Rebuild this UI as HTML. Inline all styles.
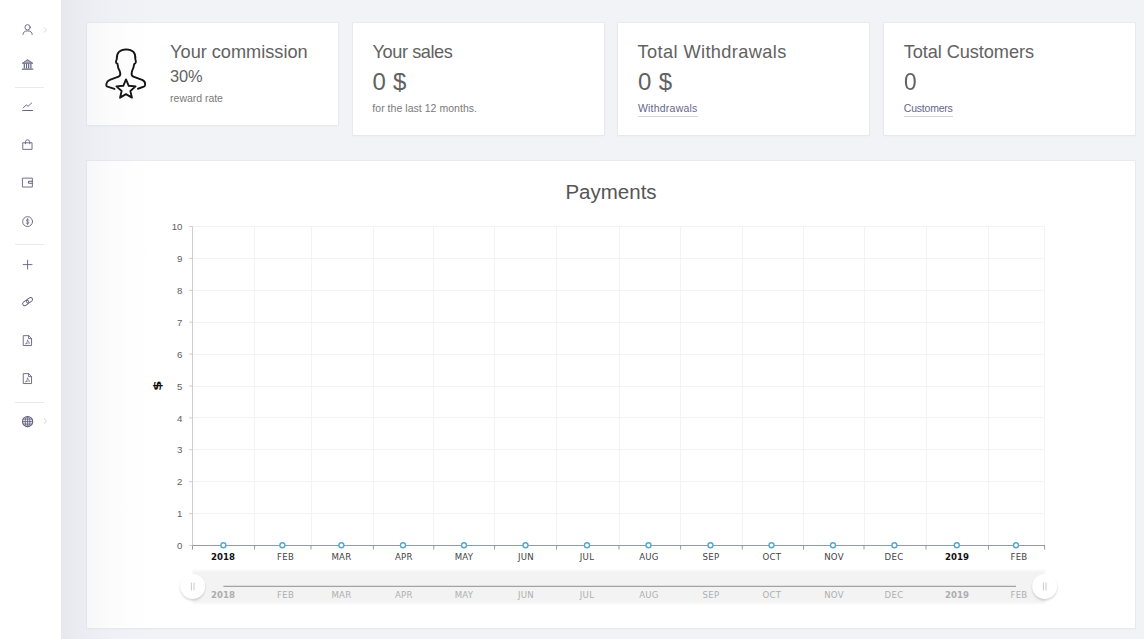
<!DOCTYPE html>
<html lang="en"><head><meta charset="utf-8"><title>Dashboard</title>
<style>
*{box-sizing:border-box;margin:0;padding:0}
html,body{width:1144px;height:639px;overflow:hidden;background:#f2f3f7;font-family:"Liberation Sans",sans-serif;color:#575962}
.side{position:absolute;left:0;top:0;width:61px;height:639px;background:#fff}
.sic{position:absolute}
.chev{position:absolute;left:42.6px}
.sep{position:absolute;left:15px;width:29px;height:1px;background:#e9e9ef}
.shade{position:absolute;left:61px;top:0;width:90px;height:639px;background:linear-gradient(to right,rgba(196,198,210,.24),rgba(200,202,214,.15) 25%,rgba(205,207,218,.07) 55%,rgba(210,212,222,0));pointer-events:none;z-index:5}
.card{position:absolute;background:#fff;box-shadow:0 0 0 1px rgba(226,228,235,.6), 0 1px 2px rgba(190,194,208,.12)}
.t{position:absolute;white-space:nowrap;color:#585858;line-height:1}
.h{color:#626262}
.s{color:#7a7a7a}
.lnk{color:#67668a}
.lnk:after{content:"";position:absolute;left:0;right:0;top:12.4px;height:1px;background:#d4d4df}
.uicon{position:absolute;left:95px;top:40px}
.chart{position:absolute;left:0;top:0}
.chart text{font-family:"DejaVu Sans","Liberation Sans",sans-serif}
.chart .yl{font-family:"Liberation Sans",sans-serif;font-size:9.7px;fill:#606060}
.chart .xl{font-size:8.6px;fill:#444;letter-spacing:.25px}
.chart .sl{font-size:8.6px;fill:#afafaf;letter-spacing:.25px}
.chart .b{font-weight:bold;fill:#111;letter-spacing:0}
.chart .sl.b{fill:#adadad;letter-spacing:0}
.chart .yt{font-size:11.2px;font-weight:bold;fill:#111}
.chart .title{font-family:"Liberation Sans",sans-serif;font-size:20.5px;fill:#555}
</style></head><body>
<div class="card" style="left:87px;top:23px;width:251px;height:102px"></div>
<div class="card" style="left:353px;top:23px;width:251px;height:112px"></div>
<div class="card" style="left:618px;top:23px;width:251px;height:112px"></div>
<div class="card" style="left:884px;top:23px;width:251px;height:112px"></div>
<div class="card" style="left:87px;top:161px;width:1048px;height:467px"></div>
<svg class="uicon" width="70" height="70" viewBox="0 0 639 639" fill="none" stroke="#0d0d0d" stroke-width="17" stroke-linejoin="round" stroke-linecap="round">
<path d="M178 447 L114 426 Q100 420 104 400 Q110 375 135 365 L215 335 Q236 325 230 298 Q224 275 212 255 L205 216 Q190 214 192 195 Q194 182 199 175 Q195 88 285 85 Q375 88 368 175 Q375 190 372 205 Q368 218 358 218 L350 255 Q340 275 335 298 Q330 325 350 335 L430 365 Q455 375 458 400 Q460 420 446 426 L392 445"/>
<polygon points="283.0,360.0 307.7,418.0 370.5,423.6 322.9,465.0 337.1,526.4 283.0,494.0 228.9,526.4 243.1,465.0 195.5,423.6 258.3,418.0"/>
</svg>
<div class="t h" style="left:170.10px;top:43.39px;font-size:18.2px;letter-spacing:-0.021px">Your commission</div>
<div class="t h" style="left:170.10px;top:68.32px;font-size:16.4px;letter-spacing:-0.116px">30%</div>
<div class="t s" style="left:170.10px;top:92.71px;font-size:10.5px;letter-spacing:-0.027px">reward rate</div>
<div class="t h" style="left:372.60px;top:43.19px;font-size:18.2px;letter-spacing:-0.440px">Your sales</div>
<div class="t h" style="left:372.60px;top:70.08px;font-size:24.0px;letter-spacing:0.192px">0 $</div>
<div class="t s" style="left:372.30px;top:103.11px;font-size:10.5px;letter-spacing:0.038px">for the last 12 months.</div>
<div class="t h" style="left:637.60px;top:43.19px;font-size:18.2px;letter-spacing:0.392px">Total Withdrawals</div>
<div class="t h" style="left:637.90px;top:70.08px;font-size:24.0px;letter-spacing:0.392px">0 $</div>
<div class="t s lnk" style="left:637.90px;top:103.11px;font-size:10.5px;letter-spacing:0.227px">Withdrawals</div>
<div class="t h" style="left:903.80px;top:43.19px;font-size:18.2px;letter-spacing:-0.086px">Total Customers</div>
<div class="t h" style="left:904.20px;top:70.08px;font-size:24.0px;letter-spacing:0.000px;transform-origin:-0.00px 50%;transform:scaleX(0.946)">0</div>
<div class="t s lnk" style="left:903.80px;top:103.11px;font-size:10.5px;letter-spacing:-0.214px">Customers</div>

<svg class="chart" width="1144" height="639" viewBox="0 0 1144 639">
<line x1="192.5" x2="1045" y1="226.5" y2="226.5" stroke="#f3f3f3" stroke-width="1"/>
<line x1="192.5" x2="1045" y1="258.5" y2="258.5" stroke="#f3f3f3" stroke-width="1"/>
<line x1="192.5" x2="1045" y1="290.5" y2="290.5" stroke="#f3f3f3" stroke-width="1"/>
<line x1="192.5" x2="1045" y1="322.5" y2="322.5" stroke="#f3f3f3" stroke-width="1"/>
<line x1="192.5" x2="1045" y1="354.5" y2="354.5" stroke="#f3f3f3" stroke-width="1"/>
<line x1="192.5" x2="1045" y1="386.5" y2="386.5" stroke="#f3f3f3" stroke-width="1"/>
<line x1="192.5" x2="1045" y1="417.5" y2="417.5" stroke="#f3f3f3" stroke-width="1"/>
<line x1="192.5" x2="1045" y1="449.5" y2="449.5" stroke="#f3f3f3" stroke-width="1"/>
<line x1="192.5" x2="1045" y1="481.5" y2="481.5" stroke="#f3f3f3" stroke-width="1"/>
<line x1="192.5" x2="1045" y1="513.5" y2="513.5" stroke="#f3f3f3" stroke-width="1"/>
<line x1="192.5" x2="1045" y1="545.5" y2="545.5" stroke="#f3f3f3" stroke-width="1"/>
<line x1="254.5" x2="254.5" y1="226.5" y2="545.5" stroke="#f3f3f3" stroke-width="1"/>
<line x1="311.5" x2="311.5" y1="226.5" y2="545.5" stroke="#f3f3f3" stroke-width="1"/>
<line x1="373.5" x2="373.5" y1="226.5" y2="545.5" stroke="#f3f3f3" stroke-width="1"/>
<line x1="433.5" x2="433.5" y1="226.5" y2="545.5" stroke="#f3f3f3" stroke-width="1"/>
<line x1="494.5" x2="494.5" y1="226.5" y2="545.5" stroke="#f3f3f3" stroke-width="1"/>
<line x1="556.5" x2="556.5" y1="226.5" y2="545.5" stroke="#f3f3f3" stroke-width="1"/>
<line x1="619.5" x2="619.5" y1="226.5" y2="545.5" stroke="#f3f3f3" stroke-width="1"/>
<line x1="680.5" x2="680.5" y1="226.5" y2="545.5" stroke="#f3f3f3" stroke-width="1"/>
<line x1="742.5" x2="742.5" y1="226.5" y2="545.5" stroke="#f3f3f3" stroke-width="1"/>
<line x1="803.5" x2="803.5" y1="226.5" y2="545.5" stroke="#f3f3f3" stroke-width="1"/>
<line x1="864.5" x2="864.5" y1="226.5" y2="545.5" stroke="#f3f3f3" stroke-width="1"/>
<line x1="926.5" x2="926.5" y1="226.5" y2="545.5" stroke="#f3f3f3" stroke-width="1"/>
<line x1="988.5" x2="988.5" y1="226.5" y2="545.5" stroke="#f3f3f3" stroke-width="1"/>
<line x1="1044.5" x2="1044.5" y1="226.5" y2="545.5" stroke="#f3f3f3" stroke-width="1"/>
<line x1="192.5" x2="192.5" y1="226.5" y2="545.5" stroke="#cfcfcf" stroke-width="1"/>
<line x1="189.0" x2="192.5" y1="226.5" y2="226.5" stroke="#cfcfcf" stroke-width="1"/>
<text class="yl" x="182.5" y="230.1" text-anchor="end">10</text>
<line x1="189.0" x2="192.5" y1="258.4" y2="258.4" stroke="#cfcfcf" stroke-width="1"/>
<text class="yl" x="182.5" y="262.0" text-anchor="end">9</text>
<line x1="189.0" x2="192.5" y1="290.3" y2="290.3" stroke="#cfcfcf" stroke-width="1"/>
<text class="yl" x="182.5" y="293.9" text-anchor="end">8</text>
<line x1="189.0" x2="192.5" y1="322.2" y2="322.2" stroke="#cfcfcf" stroke-width="1"/>
<text class="yl" x="182.5" y="325.8" text-anchor="end">7</text>
<line x1="189.0" x2="192.5" y1="354.1" y2="354.1" stroke="#cfcfcf" stroke-width="1"/>
<text class="yl" x="182.5" y="357.7" text-anchor="end">6</text>
<line x1="189.0" x2="192.5" y1="386.0" y2="386.0" stroke="#cfcfcf" stroke-width="1"/>
<text class="yl" x="182.5" y="389.6" text-anchor="end">5</text>
<line x1="189.0" x2="192.5" y1="417.9" y2="417.9" stroke="#cfcfcf" stroke-width="1"/>
<text class="yl" x="182.5" y="421.5" text-anchor="end">4</text>
<line x1="189.0" x2="192.5" y1="449.8" y2="449.8" stroke="#cfcfcf" stroke-width="1"/>
<text class="yl" x="182.5" y="453.4" text-anchor="end">3</text>
<line x1="189.0" x2="192.5" y1="481.7" y2="481.7" stroke="#cfcfcf" stroke-width="1"/>
<text class="yl" x="182.5" y="485.3" text-anchor="end">2</text>
<line x1="189.0" x2="192.5" y1="513.6" y2="513.6" stroke="#cfcfcf" stroke-width="1"/>
<text class="yl" x="182.5" y="517.2" text-anchor="end">1</text>
<line x1="189.0" x2="192.5" y1="545.5" y2="545.5" stroke="#cfcfcf" stroke-width="1"/>
<text class="yl" x="182.5" y="549.1" text-anchor="end">0</text>
<line x1="192.5" x2="1045" y1="545.5" y2="545.5" stroke="#9a9a9a" stroke-width="1"/>
<line x1="192.5" x2="192.5" y1="545.5" y2="549.5" stroke="#9a9a9a" stroke-width="1"/>
<line x1="254.6" x2="254.6" y1="545.5" y2="549.5" stroke="#9a9a9a" stroke-width="1"/>
<line x1="311" x2="311" y1="545.5" y2="549.5" stroke="#9a9a9a" stroke-width="1"/>
<line x1="373.4" x2="373.4" y1="545.5" y2="549.5" stroke="#9a9a9a" stroke-width="1"/>
<line x1="433.8" x2="433.8" y1="545.5" y2="549.5" stroke="#9a9a9a" stroke-width="1"/>
<line x1="494.6" x2="494.6" y1="545.5" y2="549.5" stroke="#9a9a9a" stroke-width="1"/>
<line x1="556.6" x2="556.6" y1="545.5" y2="549.5" stroke="#9a9a9a" stroke-width="1"/>
<line x1="619" x2="619" y1="545.5" y2="549.5" stroke="#9a9a9a" stroke-width="1"/>
<line x1="680.6" x2="680.6" y1="545.5" y2="549.5" stroke="#9a9a9a" stroke-width="1"/>
<line x1="742.3" x2="742.3" y1="545.5" y2="549.5" stroke="#9a9a9a" stroke-width="1"/>
<line x1="803.5" x2="803.5" y1="545.5" y2="549.5" stroke="#9a9a9a" stroke-width="1"/>
<line x1="864" x2="864" y1="545.5" y2="549.5" stroke="#9a9a9a" stroke-width="1"/>
<line x1="926" x2="926" y1="545.5" y2="549.5" stroke="#9a9a9a" stroke-width="1"/>
<line x1="988.5" x2="988.5" y1="545.5" y2="549.5" stroke="#9a9a9a" stroke-width="1"/>
<line x1="1044.6" x2="1044.6" y1="545.5" y2="549.5" stroke="#9a9a9a" stroke-width="1"/>
<line x1="223.4" x2="1016" y1="545.5" y2="545.5" stroke="#6aa9c9" stroke-width="1" opacity=".45"/>
<circle cx="223.4" cy="545.2" r="2.5" fill="#fff" stroke="#4fa9d3" stroke-width="1.35"/>
<circle cx="282.4" cy="545.2" r="2.5" fill="#fff" stroke="#4fa9d3" stroke-width="1.35"/>
<circle cx="341.4" cy="545.2" r="2.5" fill="#fff" stroke="#4fa9d3" stroke-width="1.35"/>
<circle cx="403" cy="545.2" r="2.5" fill="#fff" stroke="#4fa9d3" stroke-width="1.35"/>
<circle cx="464" cy="545.2" r="2.5" fill="#fff" stroke="#4fa9d3" stroke-width="1.35"/>
<circle cx="525.5" cy="545.2" r="2.5" fill="#fff" stroke="#4fa9d3" stroke-width="1.35"/>
<circle cx="587" cy="545.2" r="2.5" fill="#fff" stroke="#4fa9d3" stroke-width="1.35"/>
<circle cx="648.5" cy="545.2" r="2.5" fill="#fff" stroke="#4fa9d3" stroke-width="1.35"/>
<circle cx="710.5" cy="545.2" r="2.5" fill="#fff" stroke="#4fa9d3" stroke-width="1.35"/>
<circle cx="771.5" cy="545.2" r="2.5" fill="#fff" stroke="#4fa9d3" stroke-width="1.35"/>
<circle cx="833" cy="545.2" r="2.5" fill="#fff" stroke="#4fa9d3" stroke-width="1.35"/>
<circle cx="894.4" cy="545.2" r="2.5" fill="#fff" stroke="#4fa9d3" stroke-width="1.35"/>
<circle cx="956.8" cy="545.2" r="2.5" fill="#fff" stroke="#4fa9d3" stroke-width="1.35"/>
<circle cx="1016" cy="545.2" r="2.5" fill="#fff" stroke="#4fa9d3" stroke-width="1.35"/>
<text class="xl b" x="223" y="560" text-anchor="middle">2018</text>
<text class="xl" x="285.6" y="560" text-anchor="middle">FEB</text>
<text class="xl" x="341.4" y="560" text-anchor="middle">MAR</text>
<text class="xl" x="403.8" y="560" text-anchor="middle">APR</text>
<text class="xl" x="464" y="560" text-anchor="middle">MAY</text>
<text class="xl" x="526" y="560" text-anchor="middle">JUN</text>
<text class="xl" x="587" y="560" text-anchor="middle">JUL</text>
<text class="xl" x="649" y="560" text-anchor="middle">AUG</text>
<text class="xl" x="711" y="560" text-anchor="middle">SEP</text>
<text class="xl" x="772" y="560" text-anchor="middle">OCT</text>
<text class="xl" x="834" y="560" text-anchor="middle">NOV</text>
<text class="xl" x="894" y="560" text-anchor="middle">DEC</text>
<text class="xl b" x="957" y="560" text-anchor="middle">2019</text>
<text class="xl" x="1019" y="560" text-anchor="middle">FEB</text>
<text class="yt" transform="translate(161,385.8) rotate(-90) scale(1.36,1)" text-anchor="middle">$</text>
<text class="title" x="611" y="199.2" text-anchor="middle">Payments</text>
<defs><filter id="gs" x="-50%" y="-50%" width="200%" height="200%"><feGaussianBlur stdDeviation="1.3"/></filter><filter id="sb" x="-5%" y="-20%" width="110%" height="140%"><feGaussianBlur stdDeviation="0.8"/></filter></defs>
<rect x="192.5" y="570.4" width="852.5" height="33.2" fill="#f3f3f3" filter="url(#sb)"/>
<line x1="223.4" x2="1016" y1="586.3" y2="586.3" stroke="#8f8f8f" stroke-width="1"/>
<text class="sl b" x="223" y="598" text-anchor="middle">2018</text>
<text class="sl" x="285.6" y="598" text-anchor="middle">FEB</text>
<text class="sl" x="341.4" y="598" text-anchor="middle">MAR</text>
<text class="sl" x="403.8" y="598" text-anchor="middle">APR</text>
<text class="sl" x="464" y="598" text-anchor="middle">MAY</text>
<text class="sl" x="526" y="598" text-anchor="middle">JUN</text>
<text class="sl" x="587" y="598" text-anchor="middle">JUL</text>
<text class="sl" x="649" y="598" text-anchor="middle">AUG</text>
<text class="sl" x="711" y="598" text-anchor="middle">SEP</text>
<text class="sl" x="772" y="598" text-anchor="middle">OCT</text>
<text class="sl" x="834" y="598" text-anchor="middle">NOV</text>
<text class="sl" x="894" y="598" text-anchor="middle">DEC</text>
<text class="sl b" x="957" y="598" text-anchor="middle">2019</text>
<text class="sl" x="1019" y="598" text-anchor="middle">FEB</text>
<circle cx="192.7" cy="588" r="12.4" fill="#000" opacity=".17" filter="url(#gs)"/>
<circle cx="192.7" cy="586.4" r="12.5" fill="#fff"/>
<line x1="191.39999999999998" x2="191.39999999999998" y1="582.6" y2="590.4" stroke="#bdbdbd" stroke-width="0.8"/>
<line x1="194.0" x2="194.0" y1="582.6" y2="590.4" stroke="#bdbdbd" stroke-width="0.8"/>
<circle cx="1044.7" cy="588" r="12.4" fill="#000" opacity=".17" filter="url(#gs)"/>
<circle cx="1044.7" cy="586.4" r="12.5" fill="#fff"/>
<line x1="1043.4" x2="1043.4" y1="582.6" y2="590.4" stroke="#bdbdbd" stroke-width="0.8"/>
<line x1="1046.0" x2="1046.0" y1="582.6" y2="590.4" stroke="#bdbdbd" stroke-width="0.8"/>
</svg>
<div class="shade"></div>
<div class="side">
<svg class="sic" style="left:21.0px;top:23.0px" width="13.2" height="13.2" viewBox="0 0 16 16" fill="none" stroke="#64627e" stroke-width="1.1" stroke-linecap="round" stroke-linejoin="round"><circle cx="8" cy="5.2" r="3.2"/><path d="M2.4 14 Q2.4 9.6 8 9.6 Q13.6 9.6 13.6 14"/></svg><svg class="chev" style="top:26.6px" width="5" height="6" viewBox="0 0 5 6" fill="none" stroke="#cfcfdb" stroke-width="0.9"><path d="M1 0.5 L3.6 3 L1 5.5"/></svg>
<svg class="sic" style="left:21.0px;top:58.0px" width="13.2" height="13.2" viewBox="0 0 16 16" fill="none" stroke="#64627e" stroke-width="1.1" stroke-linecap="round" stroke-linejoin="round"><path d="M2 6.2 L8 2 L14 6.2 Z" fill="#64627e" fill-opacity=".55"/><path d="M4 7.4v4.6M6.7 7.4v4.6M9.3 7.4v4.6M12 7.4v4.6" stroke-width="1.4"/><path d="M1.8 13.6h12.4" stroke-width="1.5"/></svg>
<svg class="sic" style="left:21.0px;top:100.0px" width="13.2" height="13.2" viewBox="0 0 16 16" fill="none" stroke="#64627e" stroke-width="1.1" stroke-linecap="round" stroke-linejoin="round"><path d="M2.6 9.6 L6.4 6 L8.6 7.6 L13 3.6"/><path d="M2 12.8h12" stroke-width="1.3"/></svg>
<svg class="sic" style="left:21.0px;top:138.0px" width="13.2" height="13.2" viewBox="0 0 16 16" fill="none" stroke="#64627e" stroke-width="1.1" stroke-linecap="round" stroke-linejoin="round"><path d="M2.6 5.8h10.8v8H2.6z"/><path d="M5.4 7V4.6 Q5.4 2.2 8 2.2 Q10.6 2.2 10.6 4.6V7"/></svg>
<svg class="sic" style="left:21.0px;top:176.4px" width="13.2" height="13.2" viewBox="0 0 16 16" fill="none" stroke="#64627e" stroke-width="1.1" stroke-linecap="round" stroke-linejoin="round"><rect x="2.2" y="2.6" width="11.6" height="10.8"/><path d="M13.6 6.4H9.4 Q8.4 7.6 9.4 8.8H13.6" stroke-width="1.3"/></svg>
<svg class="sic" style="left:21.0px;top:215.0px" width="13.2" height="13.2" viewBox="0 0 16 16" fill="none" stroke="#64627e" stroke-width="1.1" stroke-linecap="round" stroke-linejoin="round"><circle cx="8" cy="8" r="6"/><path d="M9.8 6.2 Q8 4.8 6.6 6 Q5.8 7.4 8 8 Q10.2 8.6 9.4 10 Q8 11.2 6.2 9.8M8 4.2v7.6" stroke-width=".9"/></svg>
<svg class="sic" style="left:21.0px;top:257.8px" width="13.2" height="13.2" viewBox="0 0 16 16" fill="none" stroke="#64627e" stroke-width="1.1" stroke-linecap="round" stroke-linejoin="round"><path d="M8 2.6v10.8M2.6 8h10.8"/></svg>
<svg class="sic" style="left:21.0px;top:295.4px" width="13.2" height="13.2" viewBox="0 0 16 16" fill="none" stroke="#64627e" stroke-width="1.1" stroke-linecap="round" stroke-linejoin="round"><g transform="rotate(-35 8 8)"><rect x="1.2" y="5.6" width="8" height="4.8" rx="2.4"/><rect x="6.8" y="5.6" width="8" height="4.8" rx="2.4"/></g></svg>
<svg class="sic" style="left:21.0px;top:334.0px" width="13.2" height="13.2" viewBox="0 0 16 16" fill="none" stroke="#64627e" stroke-width="1.1" stroke-linecap="round" stroke-linejoin="round"><path d="M3.2 2h6.2L12.8 5.4V14H3.2z"/><path d="M9.2 2.2v3.4h3.4"/><path d="M5.8 12 Q7.8 10 8 7 Q8.2 9.8 10.6 11 Q8 10.6 5.8 12" stroke-width=".8"/></svg>
<svg class="sic" style="left:21.0px;top:372.4px" width="13.2" height="13.2" viewBox="0 0 16 16" fill="none" stroke="#64627e" stroke-width="1.1" stroke-linecap="round" stroke-linejoin="round"><path d="M3.2 2h6.2L12.8 5.4V14H3.2z"/><path d="M9.2 2.2v3.4h3.4"/><path d="M5.8 12 Q7.8 10 8 7 Q8.2 9.8 10.6 11 Q8 10.6 5.8 12" stroke-width=".8"/></svg>
<svg class="sic" style="left:21.0px;top:414.8px" width="13.2" height="13.2" viewBox="0 0 16 16" fill="none" stroke="#64627e" stroke-width="1.1" stroke-linecap="round" stroke-linejoin="round"><circle cx="8" cy="8" r="6.2" stroke-width="1.3" fill="#64627e" fill-opacity=".14"/><ellipse cx="8" cy="8" rx="2.8" ry="6.2" stroke-width="1"/><path d="M1.8 8h12.4M8 1.8v12.4M2.8 5h10.4M2.8 11h10.4" stroke-width="1"/></svg><svg class="chev" style="top:418.4px" width="5" height="6" viewBox="0 0 5 6" fill="none" stroke="#cfcfdb" stroke-width="0.9"><path d="M1 0.5 L3.6 3 L1 5.5"/></svg>
<div class="sep" style="top:87px"></div>
<div class="sep" style="top:244px"></div>
<div class="sep" style="top:402px"></div>
</div>
</body></html>
